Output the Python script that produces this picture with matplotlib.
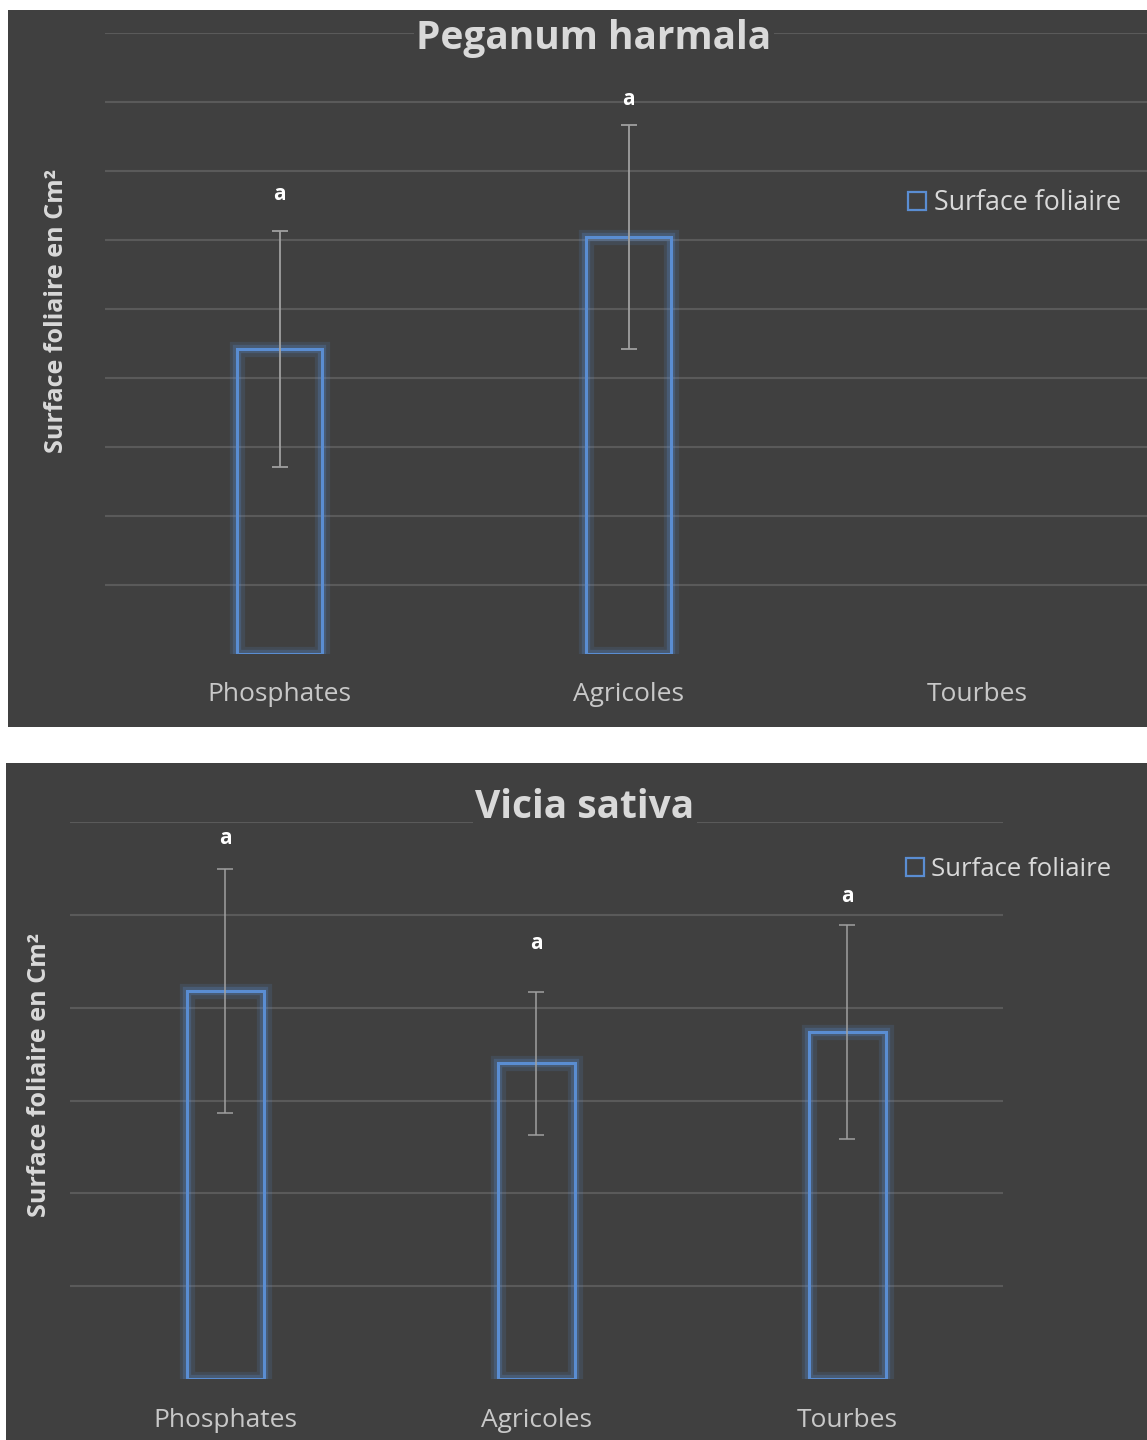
import numpy as np
import matplotlib
matplotlib.use("Agg")
import matplotlib.pyplot as plt
from matplotlib.patches import Rectangle
from matplotlib.lines import Line2D
import matplotlib.patheffects as pe

plt.rcParams["font.family"] = ["Open Sans", "DejaVu Sans"]

# ---- data ----
categories = ["Phosphates", "Agricoles", "Tourbes"]

peganum_title = "Peganum harmala"
peganum_mean = [4.42, 6.04, np.nan]
peganum_err = [1.71, 1.62, np.nan]
peganum_letters = ["a", "a", ""]

vicia_title = "Vicia sativa"
vicia_mean = [4.18, 3.40, 3.74]
vicia_err = [1.31, 0.77, 1.15]
vicia_letters = ["a", "a", "a"]

ylabel = "Surface foliaire en Cm²"
legend_label = "Surface foliaire"

# ---- style ----
W, H = 1147, 1440
BG = "#404040"
GRID = "#5A5A5A"
BLUE = "#5A8DD2"
TXT = "#D9D9D9"
TICK = "#C8C8C8"
ERR = "#A0A0A0"

fig = plt.figure(figsize=(W / 100, H / 100), dpi=100)
fig.patch.set_facecolor("white")


def fx(px):
    return px / W


def fy(py):
    return 1 - py / H


def panel(x0, y0, x1, y1):
    fig.patches.append(Rectangle((fx(x0), fy(y1)), fx(x1 - x0), (y1 - y0) / H,
                                 transform=fig.transFigure, facecolor=BG,
                                 edgecolor="none", zorder=-5))


def draw(ax, means, errs, letters, ymax, letter_off, title, title_xy,
         ylab_xy, tick_pad, err_lw):
    x = np.arange(len(categories))
    ax.set_facecolor("none")
    ax.set_xlim(-0.5, len(categories) - 0.5)
    ax.set_ylim(0, ymax)
    ax.set_yticks(np.arange(1, ymax + 1))
    ax.yaxis.grid(True, color=GRID, lw=1.5)
    ax.set_axisbelow(True)
    ax.tick_params(axis="y", left=False, labelleft=False)
    ax.tick_params(axis="x", bottom=False, labelsize=19, labelcolor=TICK,
                   pad=tick_pad)
    ax.set_xticks(x)
    ax.set_xticklabels(categories)
    for s in ax.spines.values():
        s.set_visible(False)

    m = np.array(means, dtype=float)
    e = np.array(errs, dtype=float)
    ok = ~np.isnan(m)
    bars = ax.bar(x[ok], m[ok], width=0.245, facecolor="none",
                  edgecolor=BLUE, linewidth=2.2, zorder=3)
    for b in bars:
        b.set_path_effects([pe.Stroke(linewidth=11, foreground=BLUE, alpha=0.15),
                            pe.Stroke(linewidth=6, foreground=BLUE, alpha=0.25),
                            pe.Normal()])
    ax.errorbar(x[ok], m[ok], yerr=e[ok], fmt="none", ecolor=ERR,
                elinewidth=err_lw, capsize=6, capthick=err_lw, zorder=4)
    for xi, mi, ei, lt, off in zip(x, m, e, letters, letter_off):
        if lt and not np.isnan(mi):
            ax.annotate(lt, (xi, mi + ei), xytext=(0, off),
                        textcoords="offset pixels", ha="center", va="center",
                        color="white", fontsize=15, fontweight="bold",
                        zorder=5)

    fig.text(fx(title_xy[0]), fy(title_xy[1]), title, ha="center",
             va="center", color=TXT, fontsize=28, fontweight="bold",
             bbox=dict(facecolor=BG, edgecolor="none", pad=2), zorder=6)
    fig.text(fx(ylab_xy[0]), fy(ylab_xy[1]), ylabel, ha="center",
             va="center", rotation=90, color=TXT, fontsize=18,
             fontweight="bold")


def legend(x, y, size):
    h = Line2D([], [], linestyle="none", marker="s", markersize=13,
               markerfacecolor="none", markeredgecolor=BLUE,
               markeredgewidth=1.6)
    fig.legend([h], [legend_label], loc="center left",
               bbox_to_anchor=(fx(x), fy(y)), frameon=False,
               labelcolor=TXT, fontsize=size, handlelength=0.75,
               handletextpad=0.25, borderpad=0, borderaxespad=0)


# top panel
panel(8, 10, 1147, 727)
ax1 = fig.add_axes([fx(105), fy(654), 1047 / W, 621 / H])
draw(ax1, peganum_mean, peganum_err, peganum_letters, 9,
     [37, 26, 0], peganum_title, (594, 39), (57, 311), 16.5, 1.3)
legend(907, 203, 19.3)

# bottom panel
panel(6, 763, 1147, 1440)
ax2 = fig.add_axes([fx(70), fy(1379), 933 / W, 557 / H])
draw(ax2, vicia_mean, vicia_err, vicia_letters, 6,
     [31, 48, 29], vicia_title, (585, 807), (40, 1075), 17.5, 1.1)
legend(905, 869, 18.5)

fig.savefig("out.png", dpi=100, facecolor="white")
